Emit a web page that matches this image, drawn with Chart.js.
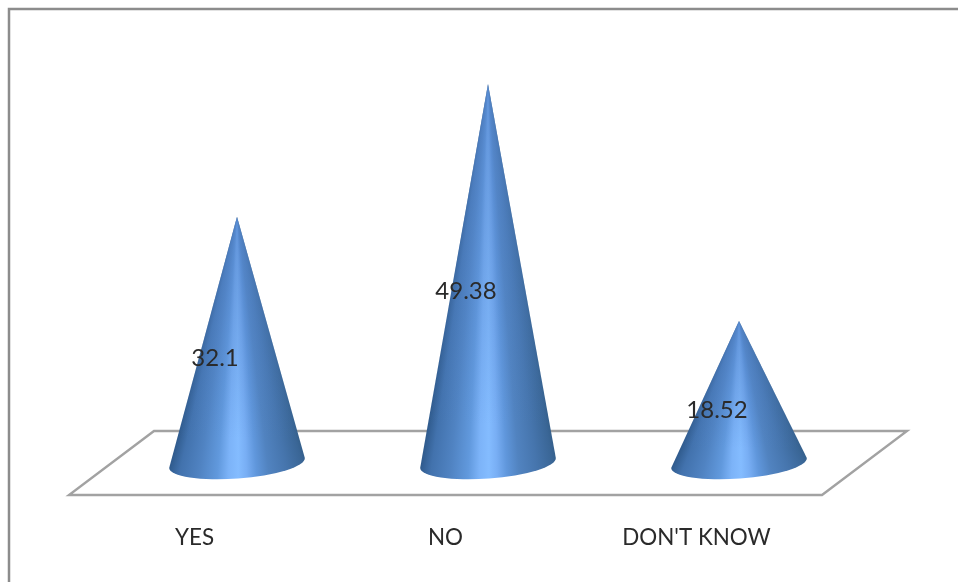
<!DOCTYPE html>
<html>
<head>
<meta charset="utf-8">
<title>Cone chart</title>
<script src="https://cdn.jsdelivr.net/npm/chart.js@4"></script>
<style>
  html, body { margin: 0; padding: 0; background: #fff; overflow: hidden; }
  canvas { display: block; }
</style>
</head>
<body>
<canvas id="chart" width="958" height="582"></canvas>
<script>
'use strict';

const CATEGORIES = ['YES', 'NO', "DON'T KNOW"];
const VALUES = [32.1, 49.38, 18.52];

const FONT_FAMILY = 'Lato, "Noto Sans", sans-serif';
const FLOOR_SHIFT = 85;   // how far the back edge of the floor is pushed right
const FLOOR_RISE = 32;    // half the floor's depth on screen
const TILT = -0.073;      // the base ellipses lean a little, up to the right
const BASE_RY = 15.5;

/* Colours across a cone, right edge first (conic gradient runs clockwise) */
const CONE_STOPS = [
  [0.00, '#35608c'], [0.03, '#3a6696'], [0.15, '#4675ad'], [0.28, '#5183c0'],
  [0.37, '#6097dc'], [0.44, '#78aef4'], [0.50, '#84bcff'], [0.57, '#7cb3f8'],
  [0.65, '#6199dd'], [0.78, '#5083c2'], [0.92, '#4272ad'], [1.00, '#2f5a8c'],
];

/* Frame and floor sit under the cones */
const floorPlugin = {
  id: 'floor',
  beforeDatasetsDraw(chart) {
    const { ctx, chartArea: a } = chart;
    ctx.save();
    ctx.strokeStyle = '#8c8c8c';
    ctx.lineWidth = 2.5;
    ctx.beginPath();
    ctx.moveTo(9, 582);
    ctx.lineTo(9, 9);
    ctx.lineTo(958, 9);
    ctx.stroke();

    ctx.strokeStyle = '#a2a2a2';
    ctx.lineWidth = 2.4;
    ctx.lineJoin = 'miter';
    ctx.beginPath();
    ctx.moveTo(a.left, a.bottom + FLOOR_RISE);
    ctx.lineTo(a.right, a.bottom + FLOOR_RISE);
    ctx.lineTo(a.right + FLOOR_SHIFT, a.bottom - FLOOR_RISE);
    ctx.lineTo(a.left + FLOOR_SHIFT, a.bottom - FLOOR_RISE);
    ctx.closePath();
    ctx.stroke();
    ctx.restore();
  },
};

function drawCone(ctx, cx, apexY, baseY, rx) {
  const lx = cx - rx * Math.cos(TILT), ly = baseY - rx * Math.sin(TILT);
  const rX = cx + rx * Math.cos(TILT), rY = baseY + rx * Math.sin(TILT);

  const angR = Math.atan2(rY - apexY, rX - cx);
  const angL = Math.atan2(ly - apexY, lx - cx);
  const grad = ctx.createConicGradient(0, cx, apexY);
  CONE_STOPS.forEach(([t, c]) => {
    grad.addColorStop((angR + (angL - angR) * t) / (2 * Math.PI), c);
  });

  const outline = () => {
    ctx.beginPath();
    ctx.moveTo(cx, apexY);
    ctx.lineTo(rX, rY);
    ctx.ellipse(cx, baseY, rx, BASE_RY, TILT, 0, Math.PI);
    ctx.closePath();
  };

  outline();
  ctx.fillStyle = grad;
  ctx.fill();

  // the point of the cone reads flatter than its foot
  const fade = ctx.createLinearGradient(0, apexY, 0, baseY);
  fade.addColorStop(0, 'rgba(85,135,205,0.75)');
  fade.addColorStop(0.6, 'rgba(85,135,205,0.25)');
  fade.addColorStop(0.9, 'rgba(85,135,205,0)');
  outline();
  ctx.fillStyle = fade;
  ctx.fill();
}

const conePlugin = {
  id: 'cones',
  afterDatasetsDraw(chart) {
    const { ctx } = chart;
    const bars = chart.getDatasetMeta(0).data;
    ctx.save();
    bars.forEach((bar) => {
      drawCone(ctx, bar.x + FLOOR_SHIFT / 2, bar.y, bar.base, bar.width / 2);
    });
    ctx.fillStyle = '#2a2a2a';
    ctx.font = '24px ' + FONT_FAMILY;
    ctx.textAlign = 'center';
    ctx.textBaseline = 'middle';
    bars.forEach((bar, i) => {
      const x = bar.x + FLOOR_SHIFT / 2 - 22;
      ctx.fillText(String(VALUES[i]), x, (bar.y + bar.base) / 2 + 18);
    });
    ctx.restore();
  },
};

new Chart(document.getElementById('chart'), {
  type: 'bar',
  data: {
    labels: CATEGORIES,
    datasets: [{
      data: VALUES,
      backgroundColor: 'rgba(0,0,0,0)',
      barPercentage: 0.542,
      categoryPercentage: 1,
    }],
  },
  options: {
    responsive: false,
    animation: false,
    layout: { padding: { left: 69, right: 136, top: 41, bottom: 0 } },
    plugins: { legend: { display: false }, tooltip: { enabled: false } },
    scales: {
      y: { display: false, min: 0, max: 55 },
      x: {
        grid: { display: false, drawTicks: false },
        border: { display: false },
        afterFit: (s) => { s.height = 119; },
        ticks: {
          padding: 61,
          color: '#2a2a2a',
          font: { family: FONT_FAMILY, size: 22.4 },
          maxRotation: 0,
        },
      },
    },
  },
  plugins: [floorPlugin, conePlugin],
});
</script>
</body>
</html>
